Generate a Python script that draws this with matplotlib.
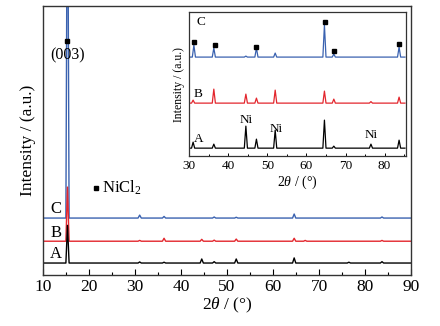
import numpy as np
import matplotlib
matplotlib.use("Agg")
import matplotlib.pyplot as plt

plt.rcParams['font.family'] = ['Liberation Serif', 'DejaVu Serif']
plt.rcParams['mathtext.fontset'] = 'custom'
plt.rcParams['mathtext.rm'] = 'Liberation Serif'
plt.rcParams['mathtext.it'] = 'Liberation Serif:italic'

# --- main pattern: peak positions (2theta) and heights, per sample ---
main_base = {'A': 4.5, 'B': 12.6, 'C': 21.2}
main_pos = {
    'A': [15.3, 31.0, 36.3, 44.5, 47.2, 52.0, 64.6, 76.5, 83.7],
    'B': [15.3, 31.0, 36.3, 44.5, 47.2, 52.0, 64.6, 67.0, 83.7],
    'C': [15.3, 31.0, 36.3, 47.2, 52.0, 64.6, 83.7],
}
main_h = {
    'A': [14.0, 0.4, 0.3, 1.5, 0.5, 1.5, 1.9, 0.3, 0.5],
    'B': [20.1, 0.3, 1.1, 0.7, 0.4, 0.8, 1.1, 0.3, 0.3],
    'C': [150.0, 1.1, 0.6, 0.4, 0.3, 1.5, 0.4],
}

# --- inset pattern (30-85 deg) ---
ins_base = {'A': 8.0, 'B': 53.0, 'C': 99.0}
ins_pos = {
    'A': [31.0, 36.3, 44.5, 47.2, 52.0, 64.6, 67.0, 76.5, 83.7],
    'B': [31.0, 36.3, 44.5, 47.2, 52.0, 64.6, 67.0, 76.5, 83.7],
    'C': [31.2, 36.3, 44.5, 47.2, 52.0, 64.6, 67.0, 83.7],
}
ins_h = {
    'A': [6, 4, 22, 9, 18, 28, 2, 4, 8],
    'B': [3, 14, 9, 5, 13, 12, 4, 1.5, 6],
    'C': [12, 9, 1, 9, 4, 32, 3, 10],
}
nicl2_pos = [31.2, 36.5, 47.2, 64.7, 67.1, 83.8]
nicl2_y = [114, 111, 109, 134, 105, 112]
ni_pos = [44.7, 52.3, 76.6]
ni_y = [36, 27, 21]

colors = {'A': 'black', 'B': '#e3262d', 'C': '#3a62b0'}


def pattern(x0, x1, base, pos, h, w):
    xs, ys = [x0], [base]
    for c, hh in zip(pos, h):
        xs += [c - w, c, c + w]
        ys += [base, base + hh, base]
    xs.append(x1)
    ys.append(base)
    return xs, ys


fig = plt.figure(figsize=(4.4, 3.26), dpi=100)
ax = fig.add_axes([0.098, 0.156, 0.836, 0.826])

for k in ['C', 'B', 'A']:
    xs, ys = pattern(10, 90, main_base[k], main_pos[k], main_h[k], 0.35)
    ax.plot(xs, ys, color=colors[k], lw=1.0)

ax.set_xlim(10, 90)
ax.set_ylim(0, 100)
ax.set_xticks(range(10, 91, 10))
ax.set_xticks(range(15, 90, 10), minor=True)
ax.set_yticks([])
ax.tick_params(axis='x', direction='in', length=4, width=0.8, labelsize=12.5, pad=3)
ax.tick_params(axis='x', which='minor', direction='in', length=2.5, width=0.8)
for s in ax.spines.values():
    s.set_linewidth(1.0)
    s.set_color('#333333')
ax.set_xlabel(r'2$\mathit{\theta}$ / (°)', fontsize=12.5, labelpad=0)
ax.set_ylabel('Intensity / (a.u.)', fontsize=12.5, labelpad=5)

for k in ['A', 'B', 'C']:
    ax.text(12.8, main_base[k] + 3.2, k, fontsize=12, ha='center', va='center')
ax.plot([15.2], [87], 's', color='black', ms=3)
ax.text(15.4, 81.5, '(003)', fontsize=11.5, ha='center', va='center')
ax.plot([21.5], [32.3], 's', color='black', ms=3)
ax.text(22.8, 32.5, r'NiCl$_2$', fontsize=12, ha='left', va='center')

# --- inset ---
ins = fig.add_axes([0.430, 0.521, 0.493, 0.442])
for k in ['C', 'B', 'A']:
    xs, ys = pattern(30.3, 85.2, ins_base[k], ins_pos[k], ins_h[k], 0.4)
    ins.plot(xs, ys, color=colors[k], lw=0.9)
ins.plot(nicl2_pos, nicl2_y, 's', color='black', ms=2.5, ls='none')
for x, y in zip(ni_pos, ni_y):
    ins.text(x, y, 'Ni', fontsize=9.5, ha='center', va='center')
ins.text(33.0, 134, 'C', fontsize=9.5, ha='center', va='center')
ins.text(32.3, 62, 'B', fontsize=9.5, ha='center', va='center')
ins.text(32.3, 17, 'A', fontsize=9.5, ha='center', va='center')

ins.set_xlim(30, 85.5)
ins.set_ylim(0, 144)
ins.set_xticks(range(30, 81, 10))
ins.set_xticks(range(35, 86, 10), minor=True)
ins.set_yticks([])
ins.tick_params(axis='x', direction='in', length=2.5, width=0.7, labelsize=9.5, pad=3)
ins.tick_params(axis='x', which='minor', direction='in', length=1.5, width=0.7)
for s in ins.spines.values():
    s.set_linewidth(0.9)
    s.set_color('#333333')
ins.set_xlabel(r'2$\mathit{\theta}$ / (°)', fontsize=10, labelpad=1)
ins.set_ylabel('Intensity / (a.u.)', fontsize=8.5, labelpad=3)

fig.savefig('out.png', dpi=100)
